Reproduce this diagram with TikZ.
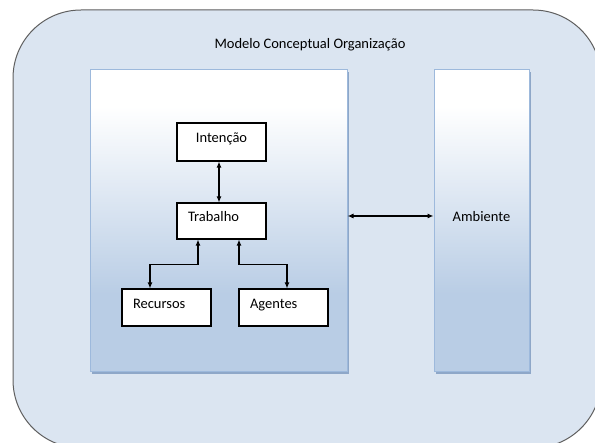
\documentclass[tikz,border=0pt]{standalone}
\usepackage{fontspec}
\setmainfont{Carlito}
\usetikzlibrary{arrows.meta}
\definecolor{outerfill}{HTML}{DBE5F1}
\definecolor{outerline}{HTML}{5F5F5F}
\definecolor{boxbot}{HTML}{B9CDE5}
\definecolor{boxline}{HTML}{9DB9DC}
\definecolor{boxshadow}{HTML}{8EA7C8}
\pgfdeclareverticalshading{colshade}{100bp}{color(0bp)=(boxbot); color(38bp)=(boxbot); color(69bp)=(white); color(100bp)=(white)}
\tikzset{
  basefont/.style={font=\fontsize{14.5}{17}\selectfont},
  outerbox/.style={draw=outerline, line width=1pt, fill=outerfill, rounded corners=68pt, minimum width=588pt, minimum height=438pt, inner sep=0pt},
  colbox/.style={draw=boxline, line width=1pt, shading=colshade, minimum width=257pt, minimum height=302pt, inner sep=0pt, basefont, text height=10pt, text depth=8pt},
  itembox/.style={draw=black, line width=1.1pt, fill=white, minimum width=89pt, inner ysep=0pt, basefont, text height=10pt, text depth=8pt},
  leftitem/.style={itembox, text width=67pt, inner xsep=11pt, align=left},
  conn/.style={line width=1.1pt, {Latex[length=6pt,width=5pt]}-{Latex[length=6pt,width=5pt]}},
}
\begin{document}
\begin{tikzpicture}[x=1pt,y=-1pt]
\useasboundingbox (0,0) rectangle (595,443);
\clip (0,0) rectangle (595,443);
\node[outerbox] (outer) at (307,229) {};
\node[basefont] (title) at (310,45) {Modelo Conceptual Organização};
% shadows
\fill[boxshadow] (92,72) rectangle (349,374);
\fill[boxshadow] (436,72) rectangle (531,374);
\node[colbox] (org) at (218.5,221) {};
\node[colbox, minimum width=95pt] (amb) at (481.5,221) {Ambiente};
\node[itembox, minimum height=38pt] (int) at (221.5,142) {Intenção};
\node[leftitem, minimum height=36pt] (trab) at (221.5,221) {Trabalho};
\node[leftitem, minimum height=37pt] (rec) at (166.5,307.5) {Recursos};
\node[leftitem, minimum height=37pt] (ag) at (283.5,307.5) {Agentes};
\draw[conn] ([xshift=-2.5pt]int.south) -- ([xshift=-2.5pt]trab.north);
\draw[conn] ([xshift=-23.5pt]trab.south) -- ++(0,25) -| ([xshift=-16.5pt]rec.north);
\draw[conn] ([xshift=17.5pt]trab.south) -- ++(0,25) -| ([xshift=3.5pt]ag.north);
\draw[conn] ([yshift=5pt]org.east) -- ([yshift=5pt]amb.west);
\end{tikzpicture}
\end{document}
